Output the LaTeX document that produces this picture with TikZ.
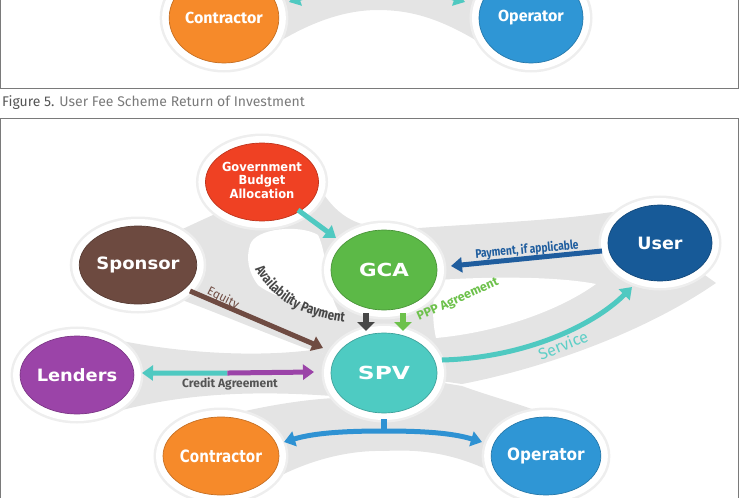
\documentclass[tikz,border=0pt]{standalone}
\usepackage{fontspec}
\usepackage{graphicx}
\setmainfont{Fira Sans}
\newfontfamily\nodefont{DejaVu Sans}
\newfontfamily\labfont{Fira Sans}
\newfontfamily\condfont[FakeStretch=0.82]{Fira Sans}
\usetikzlibrary{shapes.geometric,arrows.meta,calc,decorations.text}
\definecolor{cgray}{HTML}{E4E4E4}
\definecolor{shadowc}{HTML}{EEEEEE}
\definecolor{cred}{HTML}{EF4123}
\definecolor{cgreen}{HTML}{5CB947}
\definecolor{cuser}{HTML}{175A98}
\definecolor{cbrown}{HTML}{6D4A40}
\definecolor{cteal}{HTML}{4ECBC2}
\definecolor{cpurple}{HTML}{9B44A8}
\definecolor{corange}{HTML}{F68A2A}
\definecolor{cblue}{HTML}{2F96D5}
\definecolor{aTeal}{HTML}{4FC9C1}
\definecolor{aBlue}{HTML}{1F5D9E}
\definecolor{aGray}{HTML}{474747}
\definecolor{aGreen}{HTML}{6DC14B}
\definecolor{aBlueB}{HTML}{2E92D3}
\definecolor{aBrown}{HTML}{6F4B42}
\definecolor{txtgray}{HTML}{555555}
\definecolor{servc}{HTML}{5FCFC7}
\definecolor{bordc}{HTML}{7A7A7A}
\newcommand{\nlab}[3]{{\nodefont\bfseries\fontsize{#1}{#1}\selectfont\scalebox{#2}[1]{#3}}}
\begin{document}
\begin{tikzpicture}[x=1pt,y=-1pt,
  bubble/.style={ellipse, minimum width=106pt, minimum height=78pt, inner sep=0pt,
    fill=#1, draw=#1!80!black, line width=0.7pt, text=white,
    preaction={draw=shadowc, line width=19pt},
    preaction={draw=white, line width=14pt}},
  arr/.style={line width=5pt, -{Triangle[width=15pt,length=11pt]}},
  blockarr/.style={line width=6pt, -{Triangle[width=17pt,length=9pt]}},
  lbl/.style={inner sep=0pt}]
\useasboundingbox (0,0) rectangle (740,498);

% ---------- upper panel (previous figure, cut off) ----------
\begin{scope}
\clip (0,0) rectangle (740,88);
\fill[cgray] (224,-20) -- (531,-20) -- (531,18) -- (482,44) .. controls (440,18) and (410,10) .. (378,10)
  .. controls (345,10) and (310,22) .. (272,46) -- (224,18) -- cycle;
\node[bubble=corange, minimum width=108pt, minimum height=90pt] (ctop) at (224,18)
  {\labfont\bfseries\fontsize{16}{16}\selectfont Contractor};
\node[bubble=cblue, minimum width=104pt, minimum height=90pt] (otop) at (531,18)
  {\labfont\bfseries\fontsize{16}{16}\selectfont Operator};
\draw[line width=5pt, aTeal, {Triangle[width=15pt,length=11pt]}-{Triangle[width=15pt,length=11pt]}]
  ($(ctop)+(65,-16)$) .. controls +(40,-14) and +(-40,-14) .. ($(otop)+(-66,-16)$);
\end{scope}
\draw[bordc, line width=1pt] (0.5,-2) -- (0.5,88) -- (738.5,88) -- (738.5,-2);
\node[lbl, anchor=base west] (cap) at (2,106)
  {\labfont\fontsize{14}{14}\selectfont\textcolor{txtgray}{Figure 5.} \textcolor{bordc}{User Fee Scheme Return of Investment}};
\draw[bordc, line width=1pt] (0.5,502) -- (0.5,118.5) -- (738.5,118.5) -- (738.5,502);

% ---------- grey bands ----------
\fill[cgray] (318,185) .. controls (335,215) and (355,226) .. (384,228) -- (384,270) -- (384,373)
  -- (305,348) .. controls (250,327) and (215,312) .. (182,300) -- (138,265) -- (176,232)
  .. controls (198,222) and (214,214) .. (230,208) -- (262,182) -- cycle;
\fill[cgray] (395,230) .. controls (460,224) and (545,222) .. (612,212) -- (660,243) -- (716,283)
  .. controls (645,332) and (545,368) .. (462,384) -- (384,373) -- (384,270) -- cycle;
\fill[cgray] (77,375) -- (108,338) .. controls (170,352) and (250,358) .. (312,350) -- (384,373)
  -- (332,396) .. controls (250,390) and (180,394) .. (115,412) -- cycle;
\fill[cgray] (221,456) -- (170,432) .. controls (235,410) and (295,400) .. (335,398) -- (384,373)
  -- (462,386) .. controls (495,398) and (525,405) .. (552,417) -- (546,456) -- (496,474)
  .. controls (455,453) and (420,449) .. (384,451) .. controls (345,450) and (305,462) .. (272,480) -- cycle;
% white holes
\fill[white] (250,245) .. controls (255,228) and (300,224) .. (318,235) .. controls (328,255) and (325,290) .. (340,314)
  .. controls (300,305) and (270,295) .. (258,285) .. controls (248,272) and (246,258) .. (250,245) -- cycle;
\fill[white] (437,280) .. controls (500,276) and (560,277) .. (596,284) .. controls (560,310) and (500,332) .. (436,338)
  .. controls (432,320) and (432,300) .. (437,280) -- cycle;

% ---------- nodes ----------
\node[bubble=cred] (gba) at (262,182)
  {\scalebox{0.92}[1]{\nodefont\bfseries\fontsize{12.5}{13.5}\selectfont
   \begin{tabular}{@{}c@{}}Government\\Budget\\Allocation\end{tabular}}};
\node[bubble=cgreen, minimum height=80pt] (gca) at (384,270) {\nlab{18}{1.19}{GCA}};
\node[bubble=cuser, minimum width=104pt, minimum height=76pt] (user) at (660,243) {\nlab{17}{1.03}{User}};
\node[bubble=cbrown] (spon) at (138,265) {\nlab{17}{1.06}{Sponsor}};
\node[bubble=cteal, minimum height=80pt] (spv) at (384,373) {\nlab{18}{1.3}{SPV}};
\node[bubble=cpurple] (lend) at (77,375) {\nlab{17}{1.05}{Lenders}};
\node[bubble=corange] (contr) at (221,456) {\nlab{17}{0.8}{Contractor}};
\node[bubble=cblue] (oper) at (546,456) {\nlab{17}{0.9}{Operator}};

% ---------- connectors ----------
\draw[arr, aTeal] ($(gba)+(36,28)$) -- ($(gca)+(-48,-32)$);
\draw[arr, aBlue] ($(user)+(-58,8)$) -- ($(gca)+(67,-4)$);
\draw[arr, aBrown] ($(spon)+(52,26)$) -- ($(spv)+(-61,-25)$);
\draw[blockarr, aGray] ($(gca)+(-18,43)$) -- ($(gca)+(-18,61)$);
\draw[blockarr, aGreen] ($(gca)+(19,43)$) -- ($(gca)+(19,61)$);
\coordinate (cmid) at ($(lend)!0.49!(spv)$);
\draw[arr, aTeal] ($(cmid)+(0,-1)$) -- ($(lend)+(65,-2)$);
\draw[arr, cpurple] ($(cmid)+(0,-1)$) -- ($(spv)+(-70,-1)$);
\draw[arr, aTeal] ($(spv)+(58,-13)$) .. controls +(80,-2) and +(-40,40) .. ($(user)+(-28,44)$);
\draw[line width=6pt, aBlueB] ($(spv)+(0,46)$) -- ($(spv)+(0,60)$);
\draw[line width=5pt, aBlueB, {Triangle[width=15pt,length=11pt]}-{Triangle[width=15pt,length=11pt]}]
  ($(contr)+(63,-14)$) .. controls +(30,-9) and +(-40,0) .. ($(spv)+(0,58)$)
  .. controls +(40,0) and +(-30,-9) .. ($(oper)+(-64,-14)$);

% ---------- labels ----------
\node[lbl, rotate=5, text=aBlue] (lpay) at (527,250)
  {\condfont\bfseries\fontsize{12.5}{12.5}\selectfont Payment, if applicable};
\node[lbl, rotate=-27, text=aBrown] (leq) at (223,298)
  {\labfont\fontsize{12}{12}\selectfont Equity};
\path[decorate, decoration={text along path, text color=aGray,
   text={|\condfont\bfseries\fontsize{14}{14}\selectfont|Availability Payment}, text align=center}]
  (249,259) .. controls (267,292) and (290,318) .. (356,323);
\node[lbl, rotate=24, text=aGreen] (lppp) at (458,300)
  {\labfont\bfseries\fontsize{12.5}{12.5}\selectfont PPP Agreement};
\node[lbl, text=txtgray] (lcred) at (230,384)
  {\labfont\bfseries\fontsize{12}{12}\selectfont Credit Agreement};
\node[lbl, rotate=22, text=servc] (lserv) at (563,345)
  {\labfont\fontsize{16}{16}\selectfont Service};
\end{tikzpicture}
\end{document}
